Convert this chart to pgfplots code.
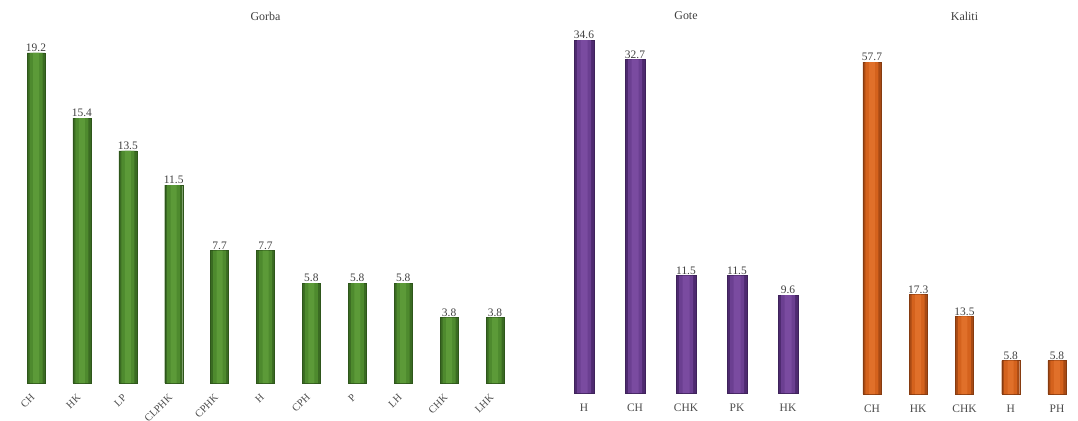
\documentclass[border=0pt]{standalone}
\usepackage{pgfplots}
\pgfplotsset{compat=1.18}
\usepackage{fontspec}
\setmainfont{Liberation Serif}
\definecolor{gmid}{HTML}{5C9A38}
\definecolor{gbase}{HTML}{4E8A2E}
\definecolor{gedge}{HTML}{3A6B22}
\definecolor{pmid}{HTML}{7A4BA0}
\definecolor{pbase}{HTML}{6B3F91}
\definecolor{pedge}{HTML}{4E2A70}
\definecolor{omid}{HTML}{E0702A}
\definecolor{obase}{HTML}{D4621D}
\definecolor{oedge}{HTML}{A84A14}
\pgfplotsset{
  panel/.style={
    ybar, axis lines=left, axis line style={draw=none},
    ytick=\empty, xtick=data, xtick style={draw=none}, major tick length=0pt,
    scale only axis, ymin=0, xmin=-0.7, xmax=4.7, clip=false,
    every axis title shift=0pt,
    title style={at={(0.5,1)}, anchor=center, font=\fontsize{12}{14}\selectfont, text=black!75},
    xticklabel style={font=\fontsize{11.5}{13}\selectfont, text=black!70, yshift=-7bp},
    every node near coord/.append style={font=\fontsize{11.5}{12}\selectfont, text=black!75, inner sep=1bp},
    /pgf/number format/.cd, fixed, precision=1, fixed zerofill, assume math mode=true,
  },
  outer/.style={bar shift=0pt, nodes near coords},
  inner/.style={bar shift=0pt, draw=none},
}
\pgfplotstableread{
x v
0 19.2
1 15.4
2 13.5
3 11.5
4 7.7
5 7.7
6 5.8
7 5.8
8 5.8
9 3.8
10 3.8
}\gorba
\pgfplotstableread{
x v
0 34.6
1 32.7
2 11.5
3 11.5
4 9.6
}\gote
\pgfplotstableread{
x v
0 57.7
1 17.3
2 13.5
3 5.8
4 5.8
}\kaliti
\begin{document}
\begin{tikzpicture}
% Gorba
\begin{axis}[panel, at={(3.87bp,38bp)}, anchor=south west,
  x=45.9bp, y=17.2bp, xmax=10.7, ymax=21.34, title={Gorba},
  xticklabels={CH,HK,LP,CLPHK,CPHK,H,CPH,P,LH,CHK,LHK},
  xticklabel style={rotate=45, anchor=east, font=\fontsize{10.5}{12}\selectfont, yshift=-2bp, xshift=-3bp}]
\addplot[outer, bar width=18bp, draw=gedge!80!black, fill=gedge] table[x=x,y=v] {\gorba};
\addplot[inner, bar width=13bp, fill=gbase] table[x=x,y=v] {\gorba};
\addplot[inner, bar width=6bp, fill=gmid] table[x=x,y=v] {\gorba};
\end{axis}
% Gote
\begin{axis}[panel, at={(548.3bp,28bp)}, anchor=south west,
  x=51bp, y=10.2bp, ymax=36.96, title={Gote},
  xticklabels={H,CH,CHK,PK,HK}]
\addplot[outer, bar width=20bp, draw=pedge!80!black, fill=pedge] table[x=x,y=v] {\gote};
\addplot[inner, bar width=14bp, fill=pbase] table[x=x,y=v] {\gote};
\addplot[inner, bar width=7bp, fill=pmid] table[x=x,y=v] {\gote};
\end{axis}
% Kaliti
\begin{axis}[panel, at={(839.6bp,27bp)}, anchor=south west,
  x=46.25bp, y=5.75bp, ymax=65.74, title={Kaliti},
  xticklabels={CH,HK,CHK,H,PH}]
\addplot[outer, bar width=18bp, draw=oedge!80!black, fill=oedge] table[x=x,y=v] {\kaliti};
\addplot[inner, bar width=13bp, fill=obase] table[x=x,y=v] {\kaliti};
\addplot[inner, bar width=6bp, fill=omid] table[x=x,y=v] {\kaliti};
\end{axis}
\pgfresetboundingbox
\useasboundingbox (0,0) rectangle (1078bp,421bp);
\end{tikzpicture}
\end{document}
